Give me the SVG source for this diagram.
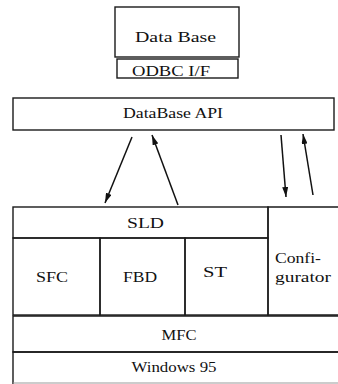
<svg xmlns="http://www.w3.org/2000/svg" width="338" height="384" viewBox="0 0 338 384">
<style>
.box{fill:none;stroke:#1a1a1a;stroke-width:1.4}
.ln{stroke:#1a1a1a;stroke-width:1.4}
.t{font-family:"Liberation Serif","Times New Roman",serif;font-size:15px;fill:#111;text-anchor:middle}
.s{font-size:14px}
.arr{stroke:#111;stroke-width:1.5;fill:none;marker-end:url(#ah)}
</style>
<defs>
<marker id="ah" viewBox="0 0 10 6" refX="10" refY="3" markerWidth="10" markerHeight="6" markerUnits="userSpaceOnUse" orient="auto">
<path d="M0,0 L10,3 L0,6 Z" fill="#111"/>
</marker>
</defs>
<g id="database">
<rect class="box" x="115" y="7" width="124" height="50"/>
<text class="t" x="175.5" y="42" textLength="81" lengthAdjust="spacingAndGlyphs">Data Base</text>
</g>
<g id="odbc">
<rect class="box" x="117" y="59" width="121" height="19"/>
<text class="t s" x="171" y="76" textLength="78" lengthAdjust="spacingAndGlyphs">ODBC I/F</text>
</g>
<g id="api">
<rect class="box" x="13" y="98" width="321" height="32"/>
<text class="t" x="173" y="118" textLength="100" lengthAdjust="spacingAndGlyphs">DataBase API</text>
</g>
<g id="connectors">
<line class="arr" x1="132" y1="137" x2="105" y2="203"/>
<line class="arr" x1="178" y1="205" x2="152" y2="135"/>
<line class="arr" x1="281" y1="135" x2="286" y2="197"/>
<line class="arr" x1="313" y1="195" x2="303" y2="134"/>
</g>
<g id="sld">
<rect class="box" x="13" y="207" width="255" height="31"/>
<text class="t s" x="145.5" y="228" textLength="37" lengthAdjust="spacingAndGlyphs">SLD</text>
</g>
<g id="sfc">
<rect class="box" x="13" y="238" width="87" height="77"/>
<text class="t s" x="52" y="282" textLength="32" lengthAdjust="spacingAndGlyphs">SFC</text>
</g>
<g id="fbd">
<rect class="box" x="100" y="238" width="85" height="77"/>
<text class="t s" x="140" y="282" textLength="34" lengthAdjust="spacingAndGlyphs">FBD</text>
</g>
<g id="st">
<rect class="box" x="185" y="238" width="83" height="77"/>
<text class="t s" x="215" y="277" textLength="24" lengthAdjust="spacingAndGlyphs">ST</text>
</g>
<g id="configurator">
<path class="box" d="M340,207 H268 V315 H340"/>
<text class="t s" x="298" y="263" textLength="46" lengthAdjust="spacingAndGlyphs">Confi-</text>
<text class="t s" x="303" y="282" textLength="56" lengthAdjust="spacingAndGlyphs">gurator</text>
</g>
<g id="mfc">
<path class="box" d="M340,316 H13 V352 H340"/>
<text class="t s" x="179" y="340" textLength="35" lengthAdjust="spacingAndGlyphs">MFC</text>
</g>
<g id="windows95">
<path class="box" d="M340,352 H13 V384"/>
<line x1="13" y1="383" x2="338" y2="383" stroke="#999" stroke-width="1"/>
<text class="t s" x="174" y="372" textLength="85" lengthAdjust="spacingAndGlyphs">Windows 95</text>
</g>
</svg>
